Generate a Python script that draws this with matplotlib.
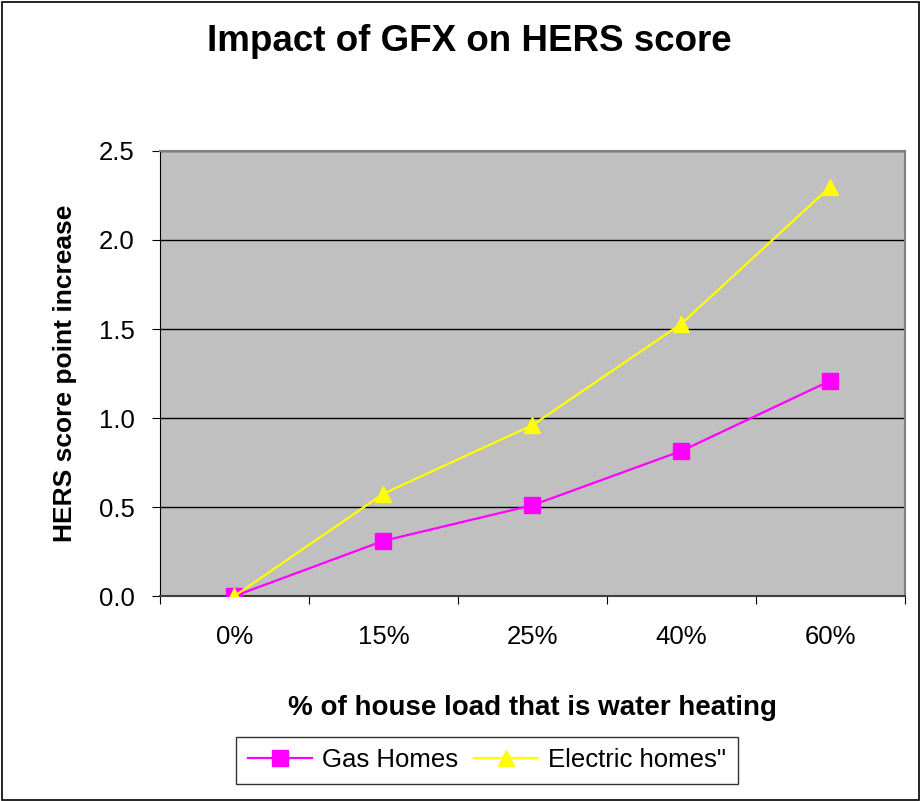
import matplotlib
matplotlib.use('Agg')
import matplotlib.pyplot as plt
from matplotlib.patches import Rectangle

categories = ['0%', '15%', '25%', '40%', '60%']
gas_homes = [0.0, 0.31, 0.51, 0.815, 1.21]
electric_homes = [0.0, 0.575, 0.96, 1.53, 2.30]

plt.rcParams['font.family'] = ['Liberation Sans', 'DejaVu Sans']

fig = plt.figure(figsize=(9.21, 8.01), dpi=100)
ax = fig.add_axes([0.1737, 0.2559, 0.8089, 0.5556])
ax.set_facecolor('#C0C0C0')

x = list(range(len(categories)))
ax.plot(x, gas_homes, color='#FF00FF', lw=1.6, marker='s', ms=11,
        mfc='#FF00FF', mec='#FF00FF', label='Gas Homes', zorder=3)
ax.plot(x, electric_homes, color='#FFFF00', lw=1.6, marker='^', ms=12,
        mfc='#FFFF00', mec='#FFFF00', label='Electric homes"', zorder=3)

ax.set_xlim(-0.5, len(categories) - 0.5)
ax.set_ylim(0, 2.5)
ax.set_yticks([0, 0.5, 1.0, 1.5, 2.0, 2.5])
ax.set_yticklabels(['0.0', '0.5', '1.0', '1.5', '2.0', '2.5'], fontsize=18.5)
ax.yaxis.grid(True, color='black', lw=1)
ax.set_axisbelow(True)

# category labels in the middle, ticks on the boundaries
ax.set_xticks([i - 0.5 for i in range(len(categories) + 1)])
ax.set_xticklabels([])
ax.set_xticks(x, minor=True)
ax.set_xticklabels(categories, minor=True, fontsize=18.5)
ax.tick_params(axis='x', which='major', length=6, direction='out', color='black')
ax.tick_params(axis='x', which='minor', length=0, pad=21)
ax.tick_params(axis='y', length=6, direction='out', pad=12)

for s in ['top', 'right']:
    ax.spines[s].set_color('#808080')
    ax.spines[s].set_linewidth(1.5)
ax.spines['left'].set_color('black')
ax.spines['bottom'].set_color('#404040')
ax.spines['bottom'].set_linewidth(1.5)

ax.set_ylabel('HERS score point increase', fontsize=19, fontweight='bold', labelpad=16)
ax.set_xlabel('% of house load that is water heating', fontsize=20,
              fontweight='bold', labelpad=33)
fig.text(0.51, 0.948, 'Impact of GFX on HERS score', ha='center', va='center',
         fontsize=26.5, fontweight='bold')

leg = fig.legend(loc='center', bbox_to_anchor=(0.529, 0.051), ncol=2,
                 fontsize=18.5, frameon=True, fancybox=False, edgecolor='black',
                 handlelength=2.5, columnspacing=0.6, handletextpad=0.4,
                 borderpad=0.45)
leg.get_frame().set_linewidth(1)

fig.patches.append(Rectangle((0.002, 0.001), 0.996, 0.997, transform=fig.transFigure,
                             fill=False, edgecolor='black', lw=1.2))

fig.savefig('out.png', dpi=100)
